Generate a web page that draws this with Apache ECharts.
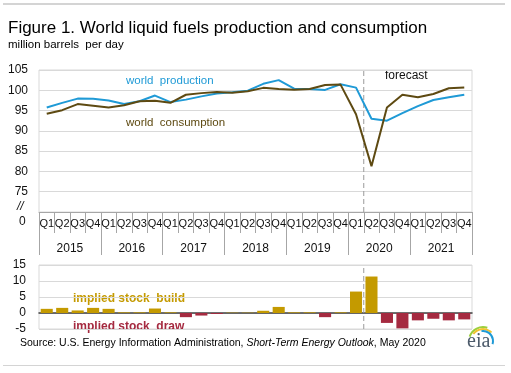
<!DOCTYPE html>
<html>
<head>
<meta charset="utf-8">
<script src="https://cdn.jsdelivr.net/npm/echarts@6/dist/echarts.min.js"></script>
<style>
html,body{margin:0;padding:0;background:#fff;}
#c{width:511px;height:373px;}
</style>
</head>
<body>
<div id="c"></div>
<script>
const quarterLabels = ['Q1','Q2','Q3','Q4','Q1','Q2','Q3','Q4','Q1','Q2','Q3','Q4','Q1','Q2','Q3','Q4','Q1','Q2','Q3','Q4','Q1','Q2','Q3','Q4','Q1','Q2','Q3','Q4'];
const years = ['2015','2016','2017','2018','2019','2020','2021'];
const production = [95.75, 96.9, 97.95, 97.9, 97.5, 96.6, 97.3, 98.7, 97.1, 97.7, 98.5, 99.2, 99.5, 99.9, 101.6, 102.5, 100.4, 100.3, 100.1, 101.5, 100.65, 93.0, 92.5, 94.35, 96.1, 97.6, 98.3, 98.9];
const consumption = [94.2, 95.1, 96.6, 96.2, 95.75, 96.3, 97.3, 97.4, 96.9, 98.9, 99.3, 99.6, 99.4, 99.75, 100.6, 100.3, 100.15, 100.3, 101.3, 101.4, 94.1, 81.3, 95.75, 98.9, 98.3, 99.1, 100.5, 100.7];
const stockChange = [1.3, 1.6, 0.8, 1.6, 1.3, 0.2, 0.2, 1.4, 0.2, -1.3, -0.8, -0.3, 0.1, 0.1, 0.7, 1.9, 0.2, 0.2, -1.3, 0.2, 6.7, 11.4, -3.1, -4.8, -2.3, -1.8, -2.3, -2.0];
const forecastBoundary = 21;
const topYTicks = [70, 105];
const bottomYTicks = [-5, 15];

const BLUE = '#1F9AD6', BROWN = '#5E4A12', GOLD = '#C49A00', RED = '#A52A40';
const GRIDC = '#d9d9d9', AXISC = '#a6a6a6';
const FONT = 'Liberation Sans, Arial, sans-serif';

const chart = echarts.init(document.getElementById('c'), null, {renderer:'canvas'});
const option = {
  backgroundColor: '#fff',
  animation: false,
  textStyle: {fontFamily: FONT},
  grid: [
    {left: 39, right: 39, top: 70, height: 142, show: true, borderColor: GRIDC, borderWidth: 1},
    {left: 39, right: 39, top: 265, height: 64, show: true, borderColor: GRIDC, borderWidth: 1}
  ],
  xAxis: [
    {gridIndex: 0, type: 'category', data: quarterLabels, position: 'bottom', offset: 0,
     axisLine: {show: true, onZero: false, lineStyle: {color: AXISC, width: 1}},
     axisTick: {show: true, interval: 0, length: 21, lineStyle: {color: AXISC}},
     axisLabel: {interval: 0, margin: 6, fontSize: 11, color: '#111', fontFamily: FONT},
     splitLine: {show: false}},
    {gridIndex: 0, type: 'category', data: years, position: 'bottom', offset: 0,
     axisLine: {show: false},
     axisTick: {show: true, interval: 0, length: 43, lineStyle: {color: AXISC}},
     axisLabel: {interval: 0, margin: 31, fontSize: 12, color: '#111', fontFamily: FONT},
     splitLine: {show: false}},
    {gridIndex: 0, type: 'value', min: 0, max: quarterLabels.length, show: false},
    {gridIndex: 1, type: 'category', data: quarterLabels,
     axisLine: {show: true, onZero: true, lineStyle: {color: '#404040', width: 1.5}},
     axisTick: {show: false}, axisLabel: {show: false}, splitLine: {show: false}},
    {gridIndex: 1, type: 'value', min: 0, max: quarterLabels.length, show: false}
  ],
  yAxis: [
    {gridIndex: 0, type: 'value', min: topYTicks[0], max: topYTicks[1], interval: 5,
     axisLine: {show: false}, axisTick: {show: false},
     axisLabel: {margin: 11, fontSize: 12, color: '#111', fontFamily: FONT,
       formatter: v => v === topYTicks[0] ? '' : String(v)},
     splitLine: {lineStyle: {color: GRIDC, width: 1}}},
    {gridIndex: 1, type: 'value', min: bottomYTicks[0], max: bottomYTicks[1], interval: 5,
     axisLine: {show: false}, axisTick: {show: false},
     axisLabel: {margin: 13, fontSize: 12, color: '#111', fontFamily: FONT},
     splitLine: {lineStyle: {color: GRIDC, width: 1}}}
  ],
  series: [
    {type: 'line', xAxisIndex: 2, yAxisIndex: 0, symbol: 'none', silent: true,
     data: [[forecastBoundary, topYTicks[0]], [forecastBoundary, topYTicks[1]]],
     lineStyle: {color: '#9a9a9a', width: 1, type: [5, 3]}, z: 1},
    {type: 'line', xAxisIndex: 4, yAxisIndex: 1, symbol: 'none', silent: true,
     data: [[forecastBoundary, bottomYTicks[0]], [forecastBoundary, bottomYTicks[1]]],
     lineStyle: {color: '#9a9a9a', width: 1, type: [5, 3]}, z: 1},
    {name: 'world production', type: 'line', xAxisIndex: 0, yAxisIndex: 0, data: production,
     symbol: 'none', lineStyle: {color: BLUE, width: 2}, z: 3},
    {name: 'world consumption', type: 'line', xAxisIndex: 0, yAxisIndex: 0, data: consumption,
     symbol: 'none', lineStyle: {color: BROWN, width: 2}, z: 4},
    {name: 'stock change', type: 'bar', xAxisIndex: 3, yAxisIndex: 1, data: stockChange,
     barCategoryGap: '22%',
     itemStyle: {color: p => p.value >= 0 ? GOLD : RED}, z: 2}
  ],
  graphic: [
    {type: 'rect', left: 3, top: 3, shape: {width: 502, height: 2}, style: {fill: '#d4d4d4'}},
    {type: 'rect', left: 3, top: 365, shape: {width: 502, height: 1}, style: {fill: '#d4d4d4'}},
    {type: 'text', left: 8, top: 20, style: {text: 'Figure 1. World liquid fuels production and consumption', font: '17px ' + FONT, fill: '#000'}},
    {type: 'text', left: 8, top: 39, style: {text: 'million barrels  per day', font: '11.5px ' + FONT, fill: '#000'}},
    {type: 'text', left: 126, top: 75, style: {text: 'world  production', font: '11.5px ' + FONT, fill: BLUE}},
    {type: 'text', left: 126, top: 117, style: {text: 'world  consumption', font: '11.5px ' + FONT, fill: BROWN}},
    {type: 'text', left: 385, top: 70, style: {text: 'forecast', font: '12px ' + FONT, fill: '#111'}},
    {type: 'text', left: 17, top: 201, style: {text: '//', font: 'italic 12px ' + FONT, fill: '#111'}},
    {type: 'text', left: 19, top: 216, style: {text: '0', font: '12px ' + FONT, fill: '#111'}},
    {type: 'text', left: 73, top: 293, style: {text: 'implied stock  build', font: 'bold 12px ' + FONT, fill: GOLD}},
    {type: 'text', left: 73, top: 321, style: {text: 'implied stock  draw', font: 'bold 12px ' + FONT, fill: RED}},
    {type: 'text', left: 20, top: 338, style: {
      text: '{n|Source: U.S. Energy Information Administration, }{i|Short-Term Energy Outlook}{n|, May 2020}',
      rich: {n: {font: '10.5px ' + FONT, fill: '#000'}, i: {font: 'italic 10.5px ' + FONT, fill: '#000'}}}},
    {type: 'text', left: 467, top: 332, style: {text: 'eia', font: '20px "Liberation Serif", "DejaVu Serif", serif', fill: '#4d5b6b'}},
    {type: 'arc', shape: {cx: 483, cy: 341, r: 14, startAngle: -Math.PI*0.9, endAngle: -Math.PI*0.4}, style: {stroke: '#9ccf3c', lineWidth: 2, fill: null}},
    {type: 'arc', shape: {cx: 483, cy: 341, r: 12, startAngle: -Math.PI*0.8, endAngle: -Math.PI*0.25}, style: {stroke: '#f2c230', lineWidth: 2, fill: null}},
    {type: 'arc', shape: {cx: 483, cy: 341, r: 10, startAngle: -Math.PI*0.55, endAngle: Math.PI*0.1}, style: {stroke: '#1f9ad6', lineWidth: 2, fill: null}}
  ]
};
chart.setOption(option);
</script>
</body>
</html>
